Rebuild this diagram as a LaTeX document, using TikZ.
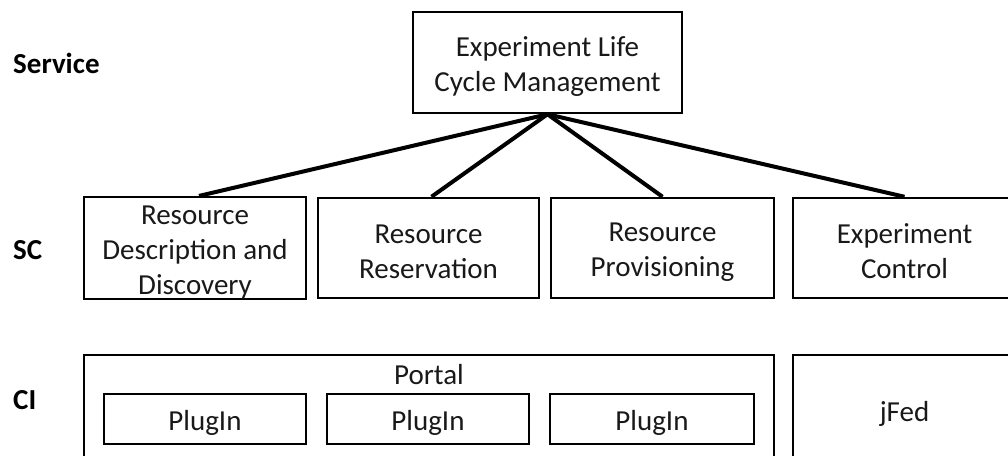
\documentclass[tikz,border=0pt]{standalone}
\usepackage{fontspec}
\setmainfont{Carlito}
\newcommand\dnstrut{\rule{0pt}{27pt}}
\begin{document}
\begin{tikzpicture}[x=1pt,y=-1pt,
  box/.style={draw=black, line width=2.5pt, inner sep=0pt, align=center,
    font=\fontsize{29}{35}\selectfont, text=black!90},
  lbl/.style={anchor=west, inner sep=0pt, font=\fontsize{29}{35}\selectfont\bfseries},
  txt/.style={inner sep=0pt, font=\fontsize{29}{35}\selectfont, text=black!90},
  conn/.style={line width=4pt}]
\useasboundingbox (0,0) rectangle (1008,455);
\clip (0,0) rectangle (1008,455);
% layer labels
\node[lbl] (lservice) at (13,63) {Service};
\node[lbl] (lsc) at (13,250) {SC};
\node[lbl] (lci) at (13,400) {CI};
% service
\node[box, minimum width=269pt, minimum height=101pt] (top) at (547.5,62.5) {\dnstrut Experiment Life\\Cycle Management};
% SC row
\node[box, minimum width=222pt, minimum height=100pt] (b1) at (195,248) {\dnstrut Resource\\Description and\\Discovery};
\node[box, minimum width=221pt, minimum height=100pt] (b2) at (428.5,248) {\dnstrut Resource\\Reservation};
\node[box, minimum width=223pt, minimum height=100pt] (b3) at (662.5,248) {\dnstrut Resource\\Provisioning};
\node[box, minimum width=223pt, minimum height=100pt] (b4) at (904.5,248) {\dnstrut Experiment\\Control};
% connectors
\draw[conn] (top.south) -- ([xshift=4pt]b1.north);
\draw[conn] (top.south) -- ([xshift=3pt]b2.north);
\draw[conn] (top.south) -- (b3.north);
\draw[conn] (top.south) -- (b4.north);
% CI row
\node[box, minimum width=690pt, minimum height=110pt] (portal) at (429,410) {};
\node[txt] (portallbl) at (429,375) {Portal};
\node[box, minimum width=202pt, minimum height=50pt] (p1) at (205,419) {\dnstrut PlugIn};
\node[box, minimum width=202pt, minimum height=50pt] (p2) at (428,419) {\dnstrut PlugIn};
\node[box, minimum width=204pt, minimum height=50pt] (p3) at (652,419) {\dnstrut PlugIn};
\node[box, minimum width=223pt, minimum height=110pt] (jfed) at (904.5,410) {\dnstrut jFed};
\end{tikzpicture}
\end{document}
